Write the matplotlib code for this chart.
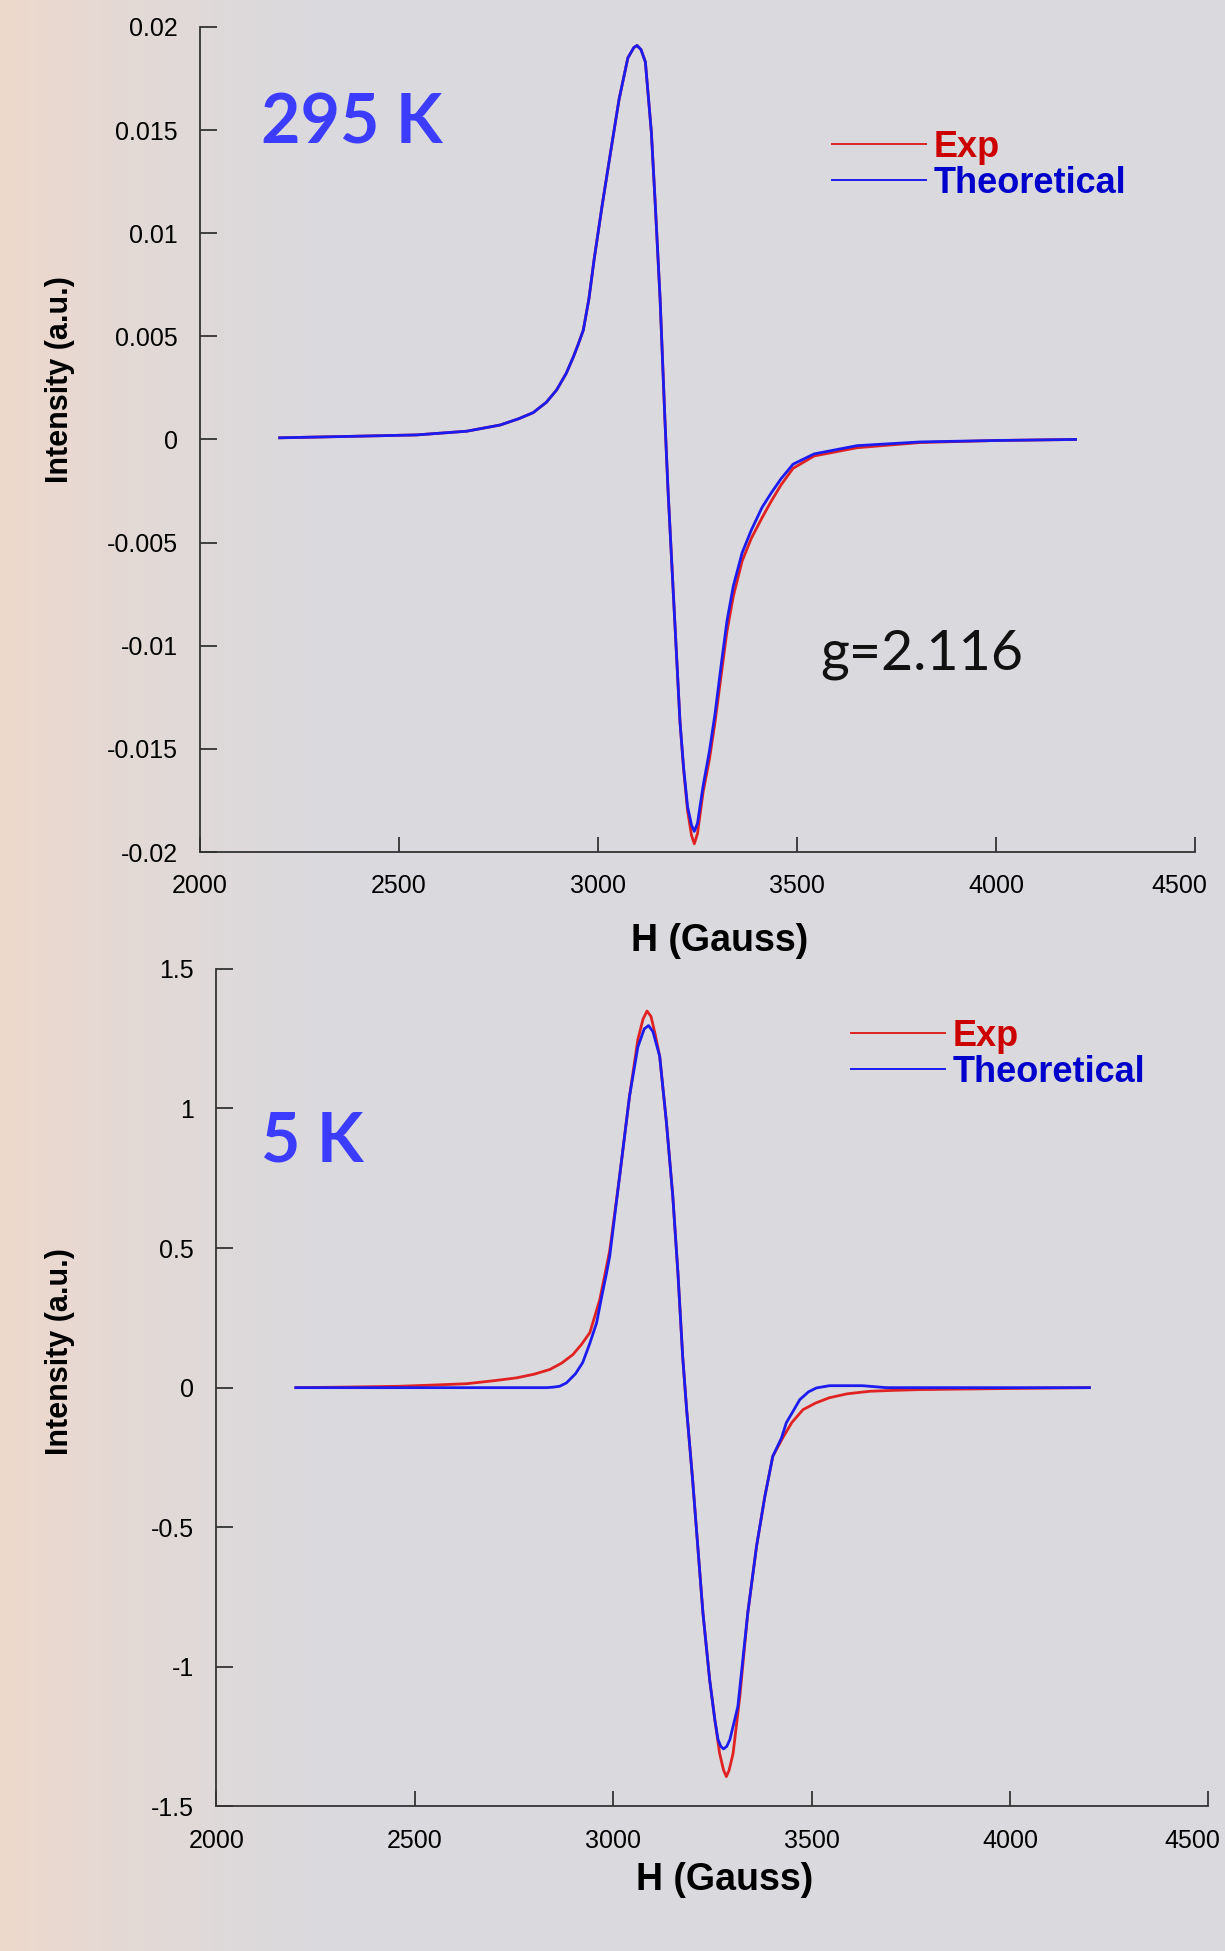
import numpy as np
import matplotlib
matplotlib.use("Agg")
import matplotlib.pyplot as plt
from matplotlib.colors import LinearSegmentedColormap
from matplotlib.transforms import ScaledTranslation

plt.rcParams["font.family"] = ["Liberation Sans", "DejaVu Sans"]

# ---- 295 K spectrum (top panel) ----
h_295_exp = [2200, 2377, 2544, 2670, 2754, 2800, 2837, 2870, 2896, 2920, 2938, 2950, 2963,
             2977, 2990, 3010, 3033, 3053, 3075, 3090, 3098, 3108, 3119, 3134, 3143, 3156,
             3168, 3176, 3192, 3206, 3215, 3225, 3235, 3242, 3250, 3264, 3280, 3294, 3309,
             3324, 3340, 3362, 3385, 3412, 3435, 3460, 3490, 3543, 3651, 3809, 4000, 4200]
i_295_exp = [0.00008, 0.00015, 0.00022, 0.0004, 0.0007, 0.0010, 0.0013, 0.0018, 0.0024,
             0.0032, 0.0040, 0.0046, 0.0053, 0.0068, 0.0087, 0.0113, 0.0141, 0.0165, 0.0185,
             0.0190, 0.0191, 0.0189, 0.0183, 0.0149, 0.0117, 0.0068, 0.0010, -0.0025,
             -0.0085, -0.0137, -0.0160, -0.0180, -0.0192, -0.0196, -0.0191, -0.0171,
             -0.0155, -0.0137, -0.0115, -0.0093, -0.0076, -0.0059, -0.0048, -0.0038,
             -0.0030, -0.0022, -0.0014, -0.0008, -0.0004, -0.00015, -0.00005, 0.0]
h_295_theo = [2200, 2377, 2544, 2670, 2754, 2800, 2837, 2870, 2896, 2920, 2938, 2950, 2963,
              2977, 2990, 3010, 3033, 3053, 3075, 3090, 3098, 3108, 3119, 3134, 3143, 3156,
              3168, 3176, 3192, 3206, 3215, 3225, 3235, 3242, 3250, 3264, 3280, 3294, 3309,
              3324, 3340, 3362, 3385, 3412, 3435, 3460, 3490, 3543, 3651, 3809, 4000, 4200]
i_295_theo = [0.00008, 0.00015, 0.00022, 0.0004, 0.0007, 0.0010, 0.0013, 0.0018, 0.0024,
              0.0032, 0.0040, 0.0046, 0.0053, 0.0068, 0.0087, 0.0113, 0.0141, 0.0165,
              0.0185, 0.0190, 0.0191, 0.0189, 0.0183, 0.0149, 0.0117, 0.0068, 0.0010,
              -0.0025, -0.0085, -0.0137, -0.0159, -0.0178, -0.0187, -0.0190, -0.0186,
              -0.0168, -0.0151, -0.0133, -0.0110, -0.0088, -0.0071, -0.0055, -0.0044,
              -0.0033, -0.0026, -0.0019, -0.0012, -0.0007, -0.0003, -0.00012, -0.00005, 0.0]

# ---- 5 K spectrum (bottom panel) ----
h_5_exp = [2200, 2330, 2462, 2540, 2630, 2700, 2756, 2800, 2840, 2870, 2898, 2920, 2941,
           2966, 2991, 3016, 3041, 3062, 3075, 3085, 3095, 3105, 3117, 3134, 3150, 3163,
           3175, 3185, 3200, 3213, 3226, 3243, 3256, 3268, 3278, 3285, 3292, 3302, 3319,
           3339, 3361, 3382, 3402, 3427, 3450, 3478, 3510, 3545, 3590, 3646, 3700, 3772,
           3940, 4200]
i_5_exp = [0.0, 0.002, 0.005, 0.009, 0.014, 0.025, 0.035, 0.048, 0.065, 0.088, 0.118,
           0.155, 0.197, 0.315, 0.49, 0.757, 1.044, 1.247, 1.32, 1.349, 1.33, 1.27, 1.187,
           0.95, 0.686, 0.41, 0.11, -0.08, -0.33, -0.569, -0.807, -1.047, -1.19, -1.31,
           -1.37, -1.393, -1.37, -1.31, -1.106, -0.807, -0.569, -0.39, -0.246, -0.18,
           -0.125, -0.079, -0.055, -0.036, -0.022, -0.013, -0.010, -0.007, -0.004, 0.0]
h_5_theo = [2200, 2832, 2850, 2865, 2882, 2905, 2923, 2940, 2958, 2970, 2983, 2991, 3016,
            3041, 3062, 3078, 3089, 3100, 3117, 3134, 3150, 3163, 3175, 3185, 3200, 3213,
            3226, 3243, 3256, 3264, 3271, 3278, 3286, 3294, 3314, 3339, 3361, 3382, 3402,
            3424, 3436, 3455, 3470, 3492, 3512, 3545, 3628, 3688, 4200]
i_5_theo = [0.0, 0.0, 0.002, 0.005, 0.017, 0.05, 0.09, 0.155, 0.232, 0.32, 0.41, 0.47,
            0.757, 1.044, 1.22, 1.285, 1.297, 1.275, 1.187, 0.95, 0.686, 0.41, 0.11, -0.08,
            -0.33, -0.569, -0.807, -1.047, -1.19, -1.26, -1.285, -1.294, -1.285, -1.26,
            -1.142, -0.807, -0.569, -0.39, -0.246, -0.18, -0.126, -0.08, -0.043, -0.015,
            -0.001, 0.007, 0.007, 0.0, 0.0]

x_ticks = [2000, 2500, 3000, 3500, 4000, 4500]
y_ticks_295 = [-0.02, -0.015, -0.01, -0.005, 0, 0.005, 0.01, 0.015, 0.02]
y_ticks_5 = [-1.5, -1, -0.5, 0, 0.5, 1, 1.5]

RED = "#e02222"
BLUE = "#1c1cf0"
BG = "#dadade"

fig = plt.figure(figsize=(12.25, 19.51), dpi=100, facecolor=BG)

# soft warm glow on the left edge (background decoration)
bg_ax = fig.add_axes([0, 0, 0.3, 1], zorder=-10)
ramp = np.linspace(1, 0, 200)[None, :] ** 1.6
cmap = LinearSegmentedColormap.from_list("glow", [BG, "#eed8cc"])
bg_ax.imshow(np.repeat(ramp, 10, axis=0), cmap=cmap, aspect="auto", vmin=0, vmax=1)
bg_ax.axis("off")


def style_axes(ax, yticks, ylim):
    ax.set_facecolor("none")
    ax.set_xlim(2000, 4500)
    ax.set_ylim(*ylim)
    ax.set_xticks(x_ticks)
    ax.set_yticks(yticks)
    ax.set_yticklabels([f"{t:g}" for t in yticks])
    for side in ["top", "right"]:
        ax.spines[side].set_visible(False)
    for side in ["left", "bottom"]:
        ax.spines[side].set_color("#333333")
        ax.spines[side].set_linewidth(1.3)
    ax.tick_params(axis="y", direction="in", length=12, width=1.3, color="#333333",
                   labelsize=18, pad=16)
    ax.tick_params(axis="x", direction="in", length=11, width=1.3, color="#333333",
                   labelsize=18, pad=16)
    # last x label is pulled left so it stays inside the picture
    last = ax.get_xticklabels()[-1]
    last.set_transform(last.get_transform() + ScaledTranslation(-0.16, 0, fig.dpi_scale_trans))


def add_legend(ax, handles, anchor):
    leg = ax.legend(handles=handles, loc="upper left", bbox_to_anchor=anchor,
                    frameon=False, borderpad=0, borderaxespad=0, handlelength=2.6,
                    handletextpad=0.22, labelspacing=0.02,
                    prop={"size": 26, "weight": "bold"}, labelcolor=["#cc0000", "#0000cc"])
    for ln in leg.get_lines():
        ln.set_linewidth(1.4)
    return leg


# top panel: 295 K
ax1 = fig.add_axes([0.1633, 0.5633, 0.8122, 0.4229])
style_axes(ax1, y_ticks_295, (-0.02, 0.02))
l1, = ax1.plot(h_295_exp, i_295_exp, color=RED, lw=2.0, label="Exp")
l2, = ax1.plot(h_295_theo, i_295_theo, color=BLUE, lw=2.0, label="Theoretical")
ax1.set_xlabel("H (Gauss)", fontsize=27, fontweight="bold", va="center")
ax1.xaxis.set_label_coords(0.522, -0.108)
ax1.set_ylabel("Intensity (a.u.)", fontsize=22, fontweight="bold", va="center")
ax1.yaxis.set_label_coords(-0.141, 0.572)
ax1.text(0.061, 0.882, "295 K", transform=ax1.transAxes, fontsize=49,
         fontweight="bold", color="#3c3cff", family="Lato", va="center")
ax1.text(0.623, 0.239, "g=2.116", transform=ax1.transAxes, fontsize=40,
         color="#111111", family="Lato", va="center")
add_legend(ax1, [l1, l2], (0.635, 0.875))

# bottom panel: 5 K
ax2 = fig.add_axes([0.1767, 0.0741, 0.8098, 0.4293])
style_axes(ax2, y_ticks_5, (-1.5, 1.5))
l3, = ax2.plot(h_5_exp, i_5_exp, color=RED, lw=2.0, label="Exp")
l4, = ax2.plot(h_5_theo, i_5_theo, color=BLUE, lw=2.0, label="Theoretical")
ax2.set_xlabel("H (Gauss)", fontsize=27, fontweight="bold", va="center")
ax2.xaxis.set_label_coords(0.5126, -0.088)
ax2.set_ylabel("Intensity (a.u.)", fontsize=22, fontweight="bold", va="center")
ax2.yaxis.set_label_coords(-0.158, 0.543)
ax2.text(0.045, 0.793, "5 K", transform=ax2.transAxes, fontsize=49,
         fontweight="bold", color="#3c3cff", family="Lato", va="center")
add_legend(ax2, [l3, l4], (0.6396, 0.94))

fig.savefig("out.png", dpi=100, facecolor=BG)
